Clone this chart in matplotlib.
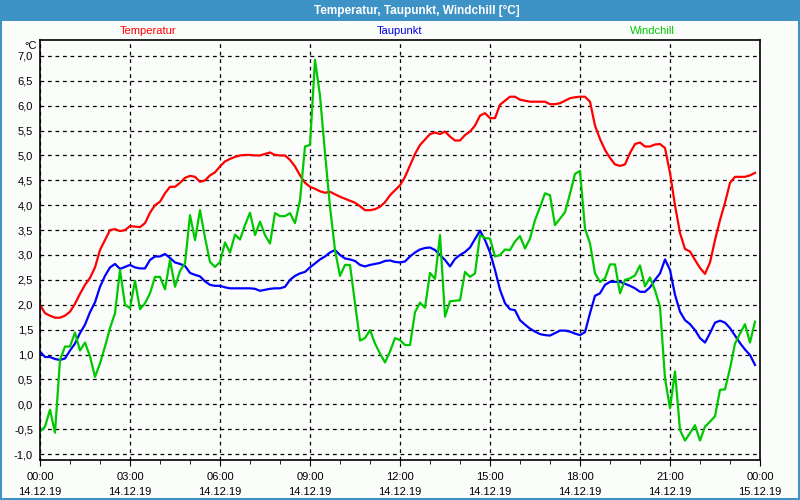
import numpy as np
import matplotlib
matplotlib.use('Agg')
import matplotlib.pyplot as plt
from matplotlib.ticker import MultipleLocator, FuncFormatter
from matplotlib.patches import Rectangle

plt.rcParams['font.family'] = ['Liberation Sans', 'DejaVu Sans']

# readings every 10 minutes, 14.12.19 00:00 .. 23:50
temperatur = [
    2.0, 1.83, 1.78, 1.74, 1.74, 1.78, 1.86, 2.02, 2.22, 2.4, 2.54, 2.75,
    3.1, 3.3, 3.5, 3.52, 3.48, 3.5, 3.58, 3.57, 3.56, 3.64, 3.85, 4.0,
    4.07, 4.24, 4.37, 4.37, 4.45, 4.55, 4.59, 4.57, 4.47, 4.5, 4.6, 4.66,
    4.78, 4.88, 4.93, 4.97, 5.0, 5.01, 5.01, 5.0, 5.0, 5.03, 5.06, 5.01,
    5.0, 5.0, 4.91, 4.78, 4.6, 4.45, 4.37, 4.33, 4.28, 4.25, 4.27, 4.22,
    4.17, 4.13, 4.09, 4.05, 3.98, 3.9, 3.9, 3.92, 3.97, 4.06, 4.2, 4.3,
    4.4, 4.57, 4.8, 5.03, 5.21, 5.32, 5.43, 5.46, 5.43, 5.48, 5.38, 5.3,
    5.3, 5.41, 5.48, 5.6, 5.8, 5.85, 5.75, 5.75, 6.02, 6.1, 6.18, 6.18,
    6.12, 6.1, 6.08, 6.08, 6.08, 6.08, 6.03, 6.03, 6.05, 6.1, 6.15, 6.17,
    6.18, 6.18, 6.08, 5.6, 5.33, 5.11, 4.95, 4.82, 4.79, 4.82, 5.05, 5.23,
    5.26, 5.18, 5.18, 5.22, 5.23, 5.15, 4.65, 4.0, 3.44, 3.12, 3.07, 2.9,
    2.74, 2.62, 2.85, 3.3, 3.7, 4.05, 4.45, 4.57, 4.57, 4.57, 4.6, 4.65,
]
taupunkt = [
    1.06, 0.95, 0.95, 0.91, 0.89, 0.92, 1.08, 1.22, 1.43, 1.6, 1.85, 2.05,
    2.36, 2.58, 2.75, 2.82, 2.72, 2.76, 2.8, 2.75, 2.73, 2.73, 2.9, 2.97,
    2.97, 3.02, 2.94, 2.85, 2.82, 2.78, 2.64, 2.6, 2.57, 2.47, 2.4, 2.38,
    2.38, 2.35, 2.33, 2.33, 2.33, 2.33, 2.33, 2.32, 2.28, 2.3, 2.32, 2.33,
    2.33, 2.36, 2.5, 2.58, 2.63, 2.66, 2.75, 2.83, 2.91, 2.97, 3.05, 3.1,
    3.0, 2.93, 2.91, 2.88, 2.8, 2.77, 2.8, 2.82, 2.84, 2.88, 2.89, 2.86,
    2.85, 2.87, 2.97, 3.05, 3.11, 3.14, 3.15, 3.1, 3.0, 2.9, 2.77, 2.92,
    3.0, 3.06, 3.15, 3.32, 3.49, 3.3, 3.05, 2.7, 2.3, 2.03, 1.91, 1.89,
    1.69, 1.6, 1.52, 1.46, 1.41, 1.39, 1.38, 1.43, 1.48, 1.48, 1.46, 1.42,
    1.39, 1.45, 1.83, 2.18, 2.23, 2.4, 2.46, 2.46, 2.46, 2.42, 2.38, 2.33,
    2.26, 2.26, 2.35, 2.5, 2.63, 2.91, 2.7, 2.2, 1.86, 1.69, 1.61, 1.49,
    1.33, 1.24, 1.43, 1.64, 1.68, 1.64, 1.53, 1.38, 1.23, 1.1, 0.99, 0.79,
]
windchill = [
    -0.55, -0.45, -0.11, -0.57, 0.89, 1.16, 1.16, 1.44, 1.08, 1.24, 0.96, 0.55,
    0.82, 1.16, 1.53, 1.83, 2.7, 2.0, 1.93, 2.48, 1.91, 2.03, 2.23, 2.56,
    2.56, 2.31, 2.9, 2.36, 2.68, 2.83, 3.8, 3.3, 3.9, 3.35, 2.86, 2.76,
    2.86, 3.25, 3.05, 3.41, 3.31, 3.6, 3.85, 3.4, 3.67, 3.4, 3.23, 3.84,
    3.78, 3.78, 3.84, 3.64, 4.1, 5.18, 5.21, 6.92, 6.2, 5.05, 3.97, 3.1,
    2.58, 2.8, 2.8, 2.03, 1.28, 1.33, 1.49, 1.22, 1.02, 0.84, 1.06, 1.33,
    1.29, 1.19, 1.19, 1.85, 2.04, 1.94, 2.64, 2.52, 3.4, 1.76, 2.07, 2.08,
    2.09, 2.66, 2.56, 2.63, 3.4, 3.34, 3.33, 2.97, 3.0, 3.11, 3.1, 3.27,
    3.38, 3.13, 3.33, 3.7, 3.96, 4.24, 4.2, 3.6, 3.73, 3.86, 4.23, 4.63,
    4.69, 3.53, 3.23, 2.63, 2.46, 2.53, 2.81, 2.81, 2.23, 2.5, 2.53, 2.59,
    2.79, 2.37, 2.55, 2.29, 1.96, 0.52, -0.08, 0.66, -0.52, -0.73, -0.58, -0.42,
    -0.73, -0.45, -0.35, -0.24, 0.29, 0.3, 0.72, 1.22, 1.42, 1.61, 1.24, 1.66,
]
tick_labels = ['00:00\n14.12.19', '03:00\n14.12.19', '06:00\n14.12.19',
               '09:00\n14.12.19', '12:00\n14.12.19', '15:00\n14.12.19',
               '18:00\n14.12.19', '21:00\n14.12.19', '00:00\n15.12.19']

hours = np.arange(len(temperatur)) / 6.0

fig = plt.figure(figsize=(8, 5), dpi=100)
fig.patch.set_facecolor('#fbfdfb')
# window title bar and frame
fig.add_artist(Rectangle((0, 0.958), 1, 0.042, transform=fig.transFigure,
                         facecolor='#3d93c5', edgecolor='none'))
fig.add_artist(Rectangle((0.001, 0.002), 0.998, 0.997, transform=fig.transFigure,
                         facecolor='none', edgecolor='#3d93c5', lw=1.5))
fig.text(0.521, 0.979, 'Temperatur, Taupunkt, Windchill [°C]', color='white',
         fontsize=8.5, fontweight='bold', ha='center', va='center')

ax = fig.add_axes([0.05, 0.08, 0.90, 0.84])
ax.set_facecolor('#fbfdfb')
ax.plot(hours, temperatur, color='#ff0000', lw=1.6)
ax.plot(hours, taupunkt, color='#0000ff', lw=1.6)
ax.plot(hours, windchill, color='#00c800', lw=1.6)

ax.set_xlim(0, 24)
ax.set_ylim(-1.12, 7.32)
ax.set_xticks(np.arange(0, 25, 3))
ax.set_xticklabels(tick_labels, fontsize=8, linespacing=1.6)
ax.xaxis.set_minor_locator(MultipleLocator(1))
ax.yaxis.set_major_locator(MultipleLocator(0.5))
ax.yaxis.set_major_formatter(FuncFormatter(lambda v, p: ('%.1f' % v).replace('.', ',')))
ax.tick_params(axis='y', length=0, labelsize=8, pad=5)
ax.tick_params(axis='x', which='major', length=4, pad=5)
ax.tick_params(axis='x', which='minor', length=3)
ax.grid(True, color='black', linestyle=(0, (3, 3)), lw=0.9)
for s in ax.spines.values():
    s.set_linewidth(1.2)

fig.text(0.046, 0.908, '°C', fontsize=8, ha='right', va='center')
fig.text(0.185, 0.938, 'Temperatur', color='#ff0000', fontsize=8, ha='center', va='center')
fig.text(0.499, 0.938, 'Taupunkt', color='#0000e0', fontsize=8, ha='center', va='center')
fig.text(0.815, 0.938, 'Windchill', color='#00c800', fontsize=8, ha='center', va='center')

plt.savefig('out.png', dpi=100, facecolor=fig.get_facecolor())
